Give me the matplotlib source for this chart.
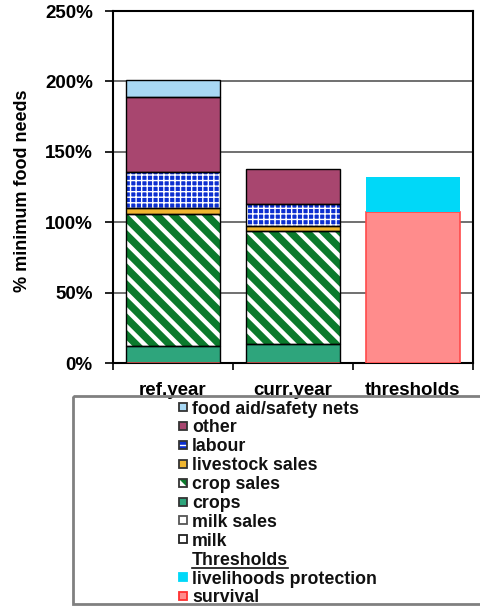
import matplotlib
matplotlib.use("Agg")
import matplotlib.pyplot as plt
from matplotlib.patches import Rectangle, Polygon
import numpy as np

plt.rcParams['font.family'] = ['Liberation Sans', 'DejaVu Sans']
plt.rcParams['font.weight'] = 'bold'

# ---------------- data ----------------
categories = ["ref.year", "curr.year", "thresholds"]
series_names = ["milk", "milk sales", "crops", "crop sales", "livestock sales",
                "labour", "other", "food aid/safety nets"]
milk = [0, 0, 0]
milk_sales = [0, 0, 0]
crops = [12, 13.5, 0]
crop_sales = [94, 80.5, 0]
livestock_sales = [4, 3, 0]
labour = [26, 16, 0]
other = [53, 25, 0]
food_aid = [12, 0, 0]
survival = [0, 0, 107]
livelihoods_protection = [0, 0, 25]
y_ticks = [0, 50, 100, 150, 200, 250]
legend_labels = ["food aid/safety nets", "other", "labour", "livestock sales",
                 "crop sales", "crops", "milk sales", "milk", "Thresholds",
                 "livelihoods protection", "survival"]

# ---------------- styles ----------------
styles = {
    "milk": dict(color="white", hatch=None),
    "milk sales": dict(color="white", hatch=None),
    "crops": dict(color="#2ea57c", hatch=None),
    "crop sales": dict(color="#0b7a2c", hatch="\\\\"),
    "livestock sales": dict(color="#f0b630", hatch=None),
    "labour": dict(color="#0c2fd0", hatch="+++"),
    "other": dict(color="#a8466f", hatch=None),
    "food aid/safety nets": dict(color="#a8d8f4", hatch=None),
}

W, H = 481, 606
fig = plt.figure(figsize=(W / 100, H / 100), dpi=100)
ax = fig.add_axes([113 / W, 1 - 363 / H, (473 - 113) / W, (363 - 11) / H])

x = np.arange(len(categories))
bw = 0.78
bottom = np.zeros(len(categories))
series_vals = [milk, milk_sales, crops, crop_sales, livestock_sales, labour, other, food_aid]
for name, vals in zip(series_names, series_vals):
    vals = np.array(vals, dtype=float)
    st = styles[name]
    mask = vals > 0
    if not mask.any():
        continue
    if st["hatch"]:
        hlw = 3.2 if "\\" in st["hatch"] else 1.0
        with plt.rc_context({'hatch.linewidth': hlw, 'hatch.color': 'white'}):
            bars = ax.bar(x[mask], vals[mask], bw, bottom=bottom[mask], color=st["color"],
                          edgecolor="white", linewidth=0, hatch=st["hatch"], zorder=3)
            for b in bars:
                if hasattr(b, "set_hatch_linewidth"):
                    b.set_hatch_linewidth(hlw)
    else:
        ax.bar(x[mask], vals[mask], bw, bottom=bottom[mask], color=st["color"],
               linewidth=0, zorder=3)
    ax.bar(x[mask], vals[mask], bw, bottom=bottom[mask], fill=False,
           edgecolor="black", linewidth=1.0, zorder=4)
    bottom = bottom + vals

# thresholds
ax.bar(x, survival, bw, color="#ff8c8c", edgecolor="#ff4a4a", linewidth=1.2, zorder=3)
ax.bar(x, livelihoods_protection, bw, bottom=survival, color="#00d8f8",
       linewidth=0, zorder=3)

ax.set_xlim(-0.5, len(categories) - 0.5)
ax.set_ylim(0, 250)
ax.set_yticks(y_ticks)
ax.set_yticklabels([f"{v}%" for v in y_ticks], fontsize=13.5, fontweight="bold")
ax.set_xticks(x)
ax.set_xticklabels(categories, fontsize=13.5, fontweight="bold")
ax.tick_params(axis="x", length=0, pad=14)
ax.set_xticks(np.arange(len(categories) + 1) - 0.5, minor=True)
ax.tick_params(axis="x", which="minor", length=5, width=1.2, direction="out")
ax.tick_params(axis="y", length=6, width=1.2, direction="out", pad=8.5)
ax.yaxis.grid(True, color="#707070", linewidth=1.4, zorder=0)
ax.set_axisbelow(True)
for sp in ax.spines.values():
    sp.set_linewidth(1.5)
    sp.set_color("black")
ax.set_ylabel("% minimum food needs", fontsize=13, fontweight="bold")
ax.yaxis.set_label_coords(-0.228, 0.49)

# ---------------- legend (pixel-space overlay) ----------------
lax = fig.add_axes([0, 0, 1, 1])
lax.set_xlim(0, W)
lax.set_ylim(H, 0)
lax.axis("off")
lax.add_patch(Rectangle((73, 396), 420, 208, fill=False, edgecolor="#808080", linewidth=2.0))

legend_styles = {
    "food aid/safety nets": dict(fc="#a8d8f4", ec="#333333"),
    "other": dict(fc="#a8466f", ec="#333333"),
    "labour": dict(fc="#0c2fd0", ec="#333333"),
    "livestock sales": dict(fc="#f0b630", ec="#333333"),
    "crop sales": dict(fc="#0b7a2c", ec="#333333"),
    "crops": dict(fc="#2ea57c", ec="#333333"),
    "milk sales": dict(fc="white", ec="#555555"),
    "milk": dict(fc="white", ec="#222222"),
    "livelihoods protection": dict(fc="#00d8f8", ec="#00d8f8"),
    "survival": dict(fc="#ff8c8c", ec="#ff3030"),
}
y0, dy = 409, 18.9
px0, ps = 179.5, 8
for i, lab in enumerate(legend_labels):
    yc = y0 + i * dy
    t = lax.text(192, yc, lab, fontsize=12.8, fontweight="bold",
                 va="center", ha="left", color="#111111")
    if lab in legend_styles:
        s = legend_styles[lab]
        top = yc - 6
        lax.add_patch(Rectangle((px0, top), ps, ps, facecolor=s["fc"],
                                edgecolor="none", zorder=2))
        if lab == "labour":
            lax.plot([px0, px0 + ps], [top + ps * 0.55, top + ps * 0.55],
                     color="white", linewidth=1.0, zorder=3)
        if lab == "crop sales":
            lax.add_patch(Polygon([[px0, top], [px0, top + ps], [px0 + ps, top + ps]],
                                  closed=True, facecolor="white", edgecolor="none", zorder=3))
        lax.add_patch(Rectangle((px0, top), ps, ps, fill=False,
                                edgecolor=s["ec"], linewidth=1.3, zorder=4))
    else:
        fig.canvas.draw()
        bb = t.get_window_extent()
        inv = lax.transData.inverted()
        (xa, ya), (xb, yb) = inv.transform([[bb.x0, bb.y0], [bb.x1, bb.y0]])
        lax.plot([xa, xb], [ya - 1, ya - 1], color="#111111", linewidth=1.2)

fig.savefig("out.png", dpi=100)
